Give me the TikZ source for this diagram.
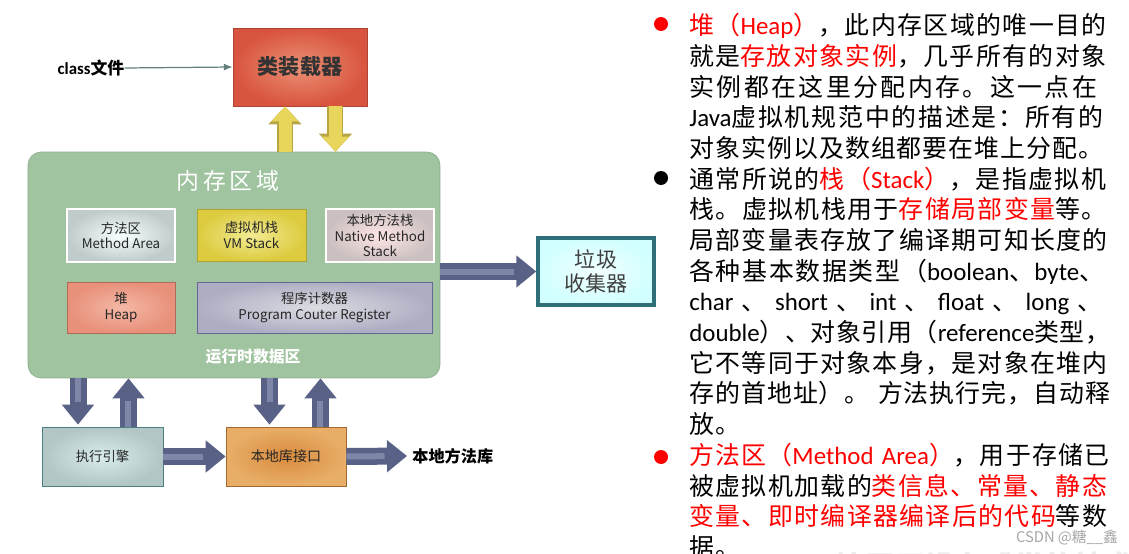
\documentclass[tikz,border=0pt]{standalone}
\usepackage{fontspec}
\setmainfont{Noto Sans CJK SC}
\newfontfamily\latn{Carlito}
\usetikzlibrary{arrows.meta,positioning}

% spacing glue between CJK characters, used in the notes
\newcount\cjkidx
\cjkidx="3000 \loop \XeTeXcharclass\cjkidx=7 \advance\cjkidx by 1 \ifnum\cjkidx<"3040 \repeat
\cjkidx="4E00 \loop \XeTeXcharclass\cjkidx=7 \advance\cjkidx by 1 \ifnum\cjkidx<"A000 \repeat
\cjkidx="FF00 \loop \XeTeXcharclass\cjkidx=7 \advance\cjkidx by 1 \ifnum\cjkidx<"FFF0 \repeat
\XeTeXinterchartoks 7 7 = {\nobreak\hskip 0.6pt plus 3pt minus 0.3pt\relax}

\definecolor{loadin}{HTML}{EA9175}
\definecolor{loadout}{HTML}{D9543F}
\definecolor{memgreen}{HTML}{A0C3A0}
\definecolor{fatblue}{HTML}{596186}
\definecolor{fatlight}{HTML}{7F87A8}
\definecolor{yelfill}{HTML}{E8D65C}
\definecolor{yeledge}{HTML}{B8A645}
\definecolor{gcedge}{HTML}{2F6F7A}
\definecolor{vmin}{HTML}{F3EB93}
\definecolor{vmout}{HTML}{DCCB3F}
\definecolor{heapin}{HTML}{F4B8A6}
\definecolor{heapout}{HTML}{E8907A}
\definecolor{ifin}{HTML}{D98B3D}
\definecolor{ifout}{HTML}{E8AE68}
\definecolor{notered}{HTML}{FF0000}
\newcommand{\redtxt}[1]{\textcolor{notered}{#1}}
\newcommand{\en}[1]{{\latn #1}}

\tikzset{
  box/.style={draw, rectangle, inner sep=0pt, align=center, text=black!85,
    font=\fontsize{7.6pt}{9pt}\selectfont},
  fat/.style={draw=fatblue, line width=0.34cm, -{Triangle[width=0.62cm,length=0.4cm]},
    postaction={draw=fatlight, line width=0.12cm, -, shorten >=0.45cm}},
  yel/.style={draw=yelfill, line width=0.26cm, -{Triangle[width=0.52cm,length=0.3cm]},
    preaction={draw=yeledge, line width=0.32cm, -{Triangle[width=0.64cm,length=0.36cm]}}},
  bullet/.style={circle, inner sep=0pt, minimum size=0.28cm},
}

\begin{document}
\begin{tikzpicture}[x=0.02cm, y=-0.02cm]
\useasboundingbox (0,0) rectangle (1129,554);

% class loader
\node[box, inner color=loadin, outer color=loadout, draw=loadout!80!black,
  minimum width=2.68cm, minimum height=1.56cm,
  font=\fontsize{12pt}{14pt}\selectfont\bfseries, text=black!80] (loader) at (300,67) {类装载器};
\node[inner sep=0pt, font=\fontsize{9.6pt}{11pt}\selectfont\bfseries] (classf) at (91,68) {\en{class}文件};
\draw[gray!80!teal, line width=0.7pt, -{Latex[length=5pt,width=4pt]}] (classf.east) -- (loader.west);

% runtime data area
\node[draw=memgreen!90!black, fill=memgreen, rounded corners=0.26cm,
  minimum width=8.24cm, minimum height=4.52cm] (mem) at (234,265) {};
\node[text=white, font=\fontsize{13pt}{15pt}\selectfont] (memtitle) at (228,181) {内\,存\,区\,域};
\node[text=white, font=\fontsize{9pt}{11pt}\selectfont\bfseries] (rtlabel) at (253,357) {运行时数据区};

\node[box, inner color=white!85!cyan!20, outer color=cyan!10!gray!45, draw=white, line width=1.2pt,
  minimum width=2.16cm, minimum height=1.06cm] (method) at (121,235.5) {方法区\\Method Area};
\node[box, inner color=vmin, outer color=vmout, draw=vmout!80!black,
  minimum width=2.18cm, minimum height=1.04cm] (vm) at (251.5,235) {虚拟机栈\\VM Stack};
\node[box, inner color=white!90!red, outer color=red!10!gray!45, draw=white, line width=1.2pt,
  minimum width=2.16cm, minimum height=1.06cm] (nstack) at (380,235.5) {本地方法栈\\Native Method\\Stack};
\node[box, inner color=heapin, outer color=heapout, draw=heapout!75!black,
  minimum width=2.16cm, minimum height=1.02cm] (heap) at (121,307.5) {堆\\Heap};
\node[box, inner color=blue!10!gray!25, outer color=blue!15!gray!55, draw=blue!20!gray,
  minimum width=4.7cm, minimum height=1.02cm] (pc) at (314.5,307.5) {程序计数器\\Program Couter Register};

% garbage collector
\node[box, inner color=cyan!5!white, outer color=cyan!18!white, draw=gcedge, line width=2pt,
  minimum width=2.32cm, minimum height=1.34cm, text=black!75,
  font=\fontsize{12pt}{14pt}\selectfont] (gc) at (596,271.5) {垃圾\\收集器};

% execution engine and native interface
\node[box, inner color=teal!15!white, outer color=teal!35!gray!45, draw=teal!40!gray,
  minimum width=2.42cm, minimum height=1.18cm] (exec) at (102.5,456.5) {执行引擎};
\node[box, inner color=ifin, outer color=ifout, draw=ifin!75!black,
  minimum width=2.4cm, minimum height=1.18cm, font=\fontsize{8pt}{9pt}\selectfont] (iface) at (286,456.5) {本地库接口};
\node[inner sep=0pt, anchor=west, font=\fontsize{9.2pt}{11pt}\selectfont\bfseries] (nlib) at (412,456) {本地方法库};

% yellow arrows
\coordinate (yu) at ([xshift=-0.3cm]loader.south);
\coordinate (yd) at ([xshift=0.71cm]loader.south);
\draw[yel] (yu |- mem.north) -- (yu);
\draw[yel] (yd) -- (yd |- mem.north);

% fat arrows
\coordinate (ed) at ([xshift=-0.49cm]exec.north);
\coordinate (eu) at ([xshift=0.52cm]exec.north);
\coordinate (id) at ([xshift=-0.33cm]iface.north);
\coordinate (iu) at ([xshift=0.69cm]iface.north);
\draw[fat] (ed |- mem.south) -- ([yshift=0.04cm]ed);
\draw[fat] (eu) -- (eu |- mem.south);
\draw[fat] (id |- mem.south) -- ([yshift=0.04cm]id);
\draw[fat] (iu) -- (iu |- mem.south);
\draw[fat] (mem.east |- gc.west) -- (gc.west);
\draw[fat] (exec.east) -- (iface.west);
\draw[fat] (iface.east) -- ([xshift=-0.1cm]nlib.west);

% notes
\node[bullet, fill=notered] (b1) at (661,24) {};
\node[bullet, fill=black] (b2) at (661,178) {};
\node[bullet, fill=notered] (b3) at (661,457) {};
\node[anchor=north west, inner sep=0pt, text width=8.42cm,
  font=\fontsize{14.17pt}{17.47pt}\selectfont] (notes) at (689,13) {%
\XeTeXinterchartokenstate=1 \tolerance=10000 \hbadness=10000 \parindent=0pt
\noindent\redtxt{堆（\en{Heap}）}，此内存区域的唯一目的\linebreak
就是\redtxt{存放对象实例}，几乎所有的对象\linebreak
实例都在这里分配内存。这一点在\linebreak
\en{Java}虚拟机规范中的描述是：所有的\linebreak
对象实例以及数组都要在堆上分配。\par
\noindent 通常所说的\redtxt{栈（\en{Stack}）}，是指虚拟机\linebreak
栈。虚拟机栈用于\redtxt{存储局部变量}等。\linebreak
局部变量表存放了编译期可知长度的\linebreak
各种基本数据类型（\en{boolean}、\en{byte}、\linebreak
\en{char} 、 \en{short} 、 \en{int} 、 \en{float} 、 \en{long} 、\linebreak
\en{double}）、对象引用（\en{reference}类型，\linebreak
它不等同于对象本身，是对象在堆内\linebreak
存的首地址）。 方法执行完，自动释\linebreak
放。\par
\noindent\redtxt{方法区（\en{Method Area}）}，用于存储已\linebreak
被虚拟机加载的\redtxt{类信息、常量、静态}\linebreak
\redtxt{变量、即时编译器编译后的代码}等数\linebreak
据。\par};

% watermarks
\node[text=gray!70, font=\fontsize{8.4pt}{10pt}\selectfont] (csdn) at (1067,538) {CSDN @糖\_\_鑫};
\node[text=gray!15, font=\fontsize{17pt}{20pt}\selectfont\bfseries] (slogan) at (985,566) {让天下没有难学的技术};
\end{tikzpicture}
\end{document}
